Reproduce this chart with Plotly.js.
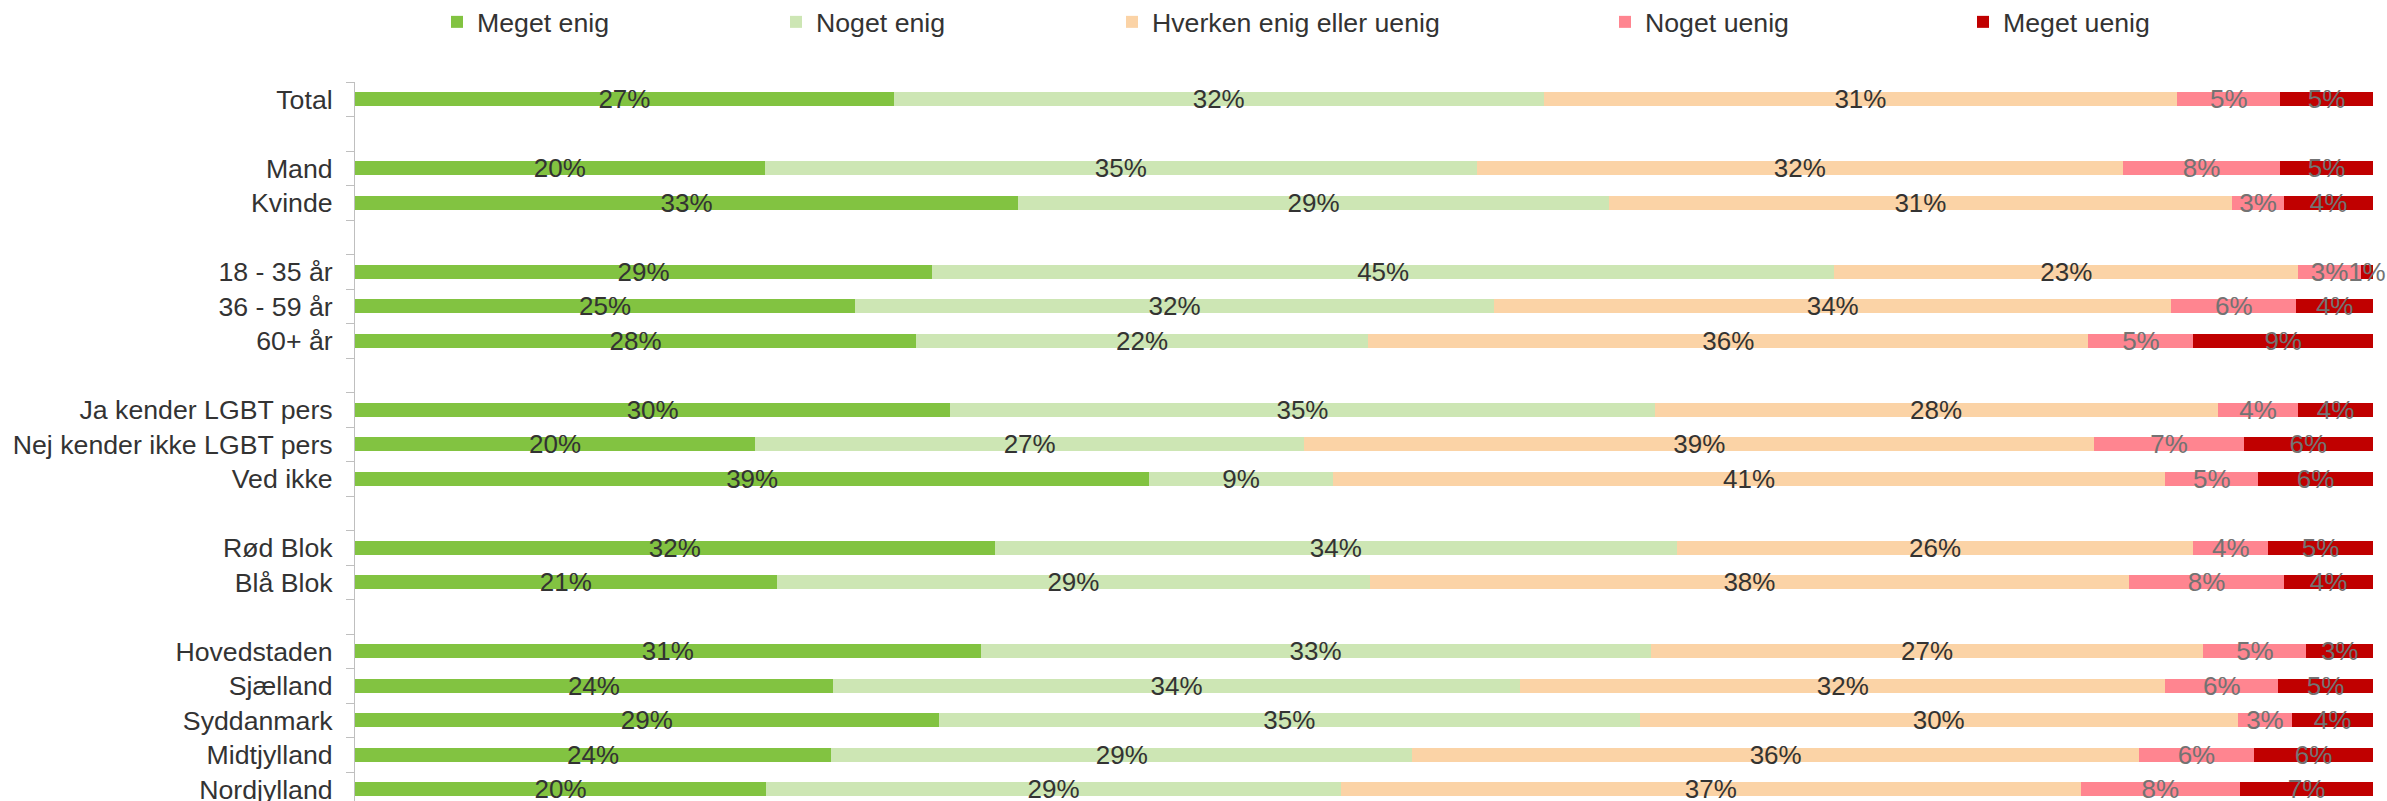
<!DOCTYPE html>
<html>
<head>
<meta charset="utf-8">
<script src="https://cdn.plot.ly/plotly-3.0.1.min.js"></script>
<style>
  html, body { margin: 0; padding: 0; background: #ffffff; }
  #chart { width: 2387px; height: 801px; }
</style>
</head>
<body>
<div id="chart"></div>
<script>
// Categories (blank strings are the gaps between groups)
const categories = ['Total', ' ', 'Mand', 'Kvinde', '  ', '18 - 35 år', '36 - 59 år', '60+ år', '   ',
  'Ja kender LGBT pers', 'Nej kender ikke LGBT pers', 'Ved ikke', '    ', 'Rød Blok', 'Blå Blok', '     ',
  'Hovedstaden', 'Sjælland', 'Syddanmark', 'Midtjylland', 'Nordjylland'];

const seriesNames = ['Meget enig', 'Noget enig', 'Hverken enig eller uenig', 'Noget uenig', 'Meget uenig'];

// Percentages per category (null = gap row)
const megetEnig   = [26.7, null, 20.3, 32.9, null, 28.6, 24.8, 27.8, null, 29.5, 19.8, 39.4, null, 31.7, 20.9, null, 31.0, 23.7, 28.9, 23.6, 20.4];
const nogetEnig   = [32.2, null, 35.3, 29.3, null, 44.7, 31.7, 22.4, null, 34.9, 27.2,  9.1, null, 33.8, 29.4, null, 33.2, 34.1, 34.7, 28.8, 28.5];
const hverken     = [31.4, null, 32.0, 30.9, null, 23.0, 33.6, 35.7, null, 27.9, 39.1, 41.3, null, 25.6, 37.6, null, 27.4, 32.0, 29.6, 36.0, 36.7];
const nogetUenig  = [ 5.1, null,  7.8,  2.6, null,  3.1,  6.2,  5.2, null,  4.0,  7.4,  4.6, null,  3.7,  7.7, null,  5.1,  5.6,  2.7,  5.7,  7.9];
const megetUenig  = [ 4.6, null,  4.6,  4.4, null,  0.6,  3.8,  8.9, null,  3.7,  6.4,  5.7, null,  5.2,  4.4, null,  3.3,  4.7,  4.0,  5.9,  6.6];

const seriesValues = [megetEnig, nogetEnig, hverken, nogetUenig, megetUenig];
const colors = ['#82c341', '#cde6b4', '#fbd3a6', '#ff8590', '#c00000'];
const labelColors = ['#333333', '#333333', '#333333', '#737373', '#737373'];
const legendWidths = [294, 291, 448, 313, 160];

const FONT = '"Liberation Sans", Arial, Helvetica, sans-serif';

const traces = seriesValues.map((vals, i) => ({
  type: 'bar',
  orientation: 'h',
  name: seriesNames[i],
  y: categories,
  x: vals,
  text: vals.map(v => v === null ? '' : Math.round(v) + '%'),
  textposition: 'inside',
  insidetextanchor: 'middle',
  constraintext: 'none',
  textangle: 0,
  cliponaxis: false,
  insidetextfont: { family: FONT, size: 26, color: labelColors[i] },
  textfont: { family: FONT, size: 26, color: labelColors[i] },
  marker: { color: colors[i], line: { width: 0 } },
  legendwidth: legendWidths[i],
  hoverinfo: 'skip'
}));

const layout = {
  width: 2387,
  height: 801,
  margin: { l: 355, r: 14, t: 82, b: 0, pad: 0 },
  paper_bgcolor: '#ffffff',
  plot_bgcolor: '#ffffff',
  barmode: 'stack',
  barnorm: 'percent',
  bargap: 0.595,
  font: { family: FONT, size: 26.7, color: '#333333' },
  showlegend: true,
  legend: {
    orientation: 'h',
    xref: 'container',
    yref: 'container',
    x: 437 / 2387,
    xanchor: 'left',
    y: 1 - 22 / 801,
    yanchor: 'middle',
    traceorder: 'normal',
    font: { family: FONT, size: 26.7, color: '#333333' },
    bgcolor: 'rgba(0,0,0,0)',
    borderwidth: 0
  },
  xaxis: {
    range: [0, 100.0005],
    visible: false,
    fixedrange: true
  },
  yaxis: {
    type: 'category',
    categoryorder: 'array',
    categoryarray: categories,
    range: [20.34, -0.5],
    showline: true,
    linecolor: '#bfbfbf',
    linewidth: 1,
    ticks: 'outside',
    tickson: 'boundaries',
    ticklen: 8,
    tickcolor: '#bfbfbf',
    tickwidth: 1,
    ticklabelstandoff: 16,
    showgrid: false,
    zeroline: false,
    tickfont: { family: FONT, size: 26.7, color: '#333333' },
    fixedrange: true
  }
};

Plotly.newPlot('chart', traces, layout, { displayModeBar: false, staticPlot: true });
</script>
</body>
</html>
